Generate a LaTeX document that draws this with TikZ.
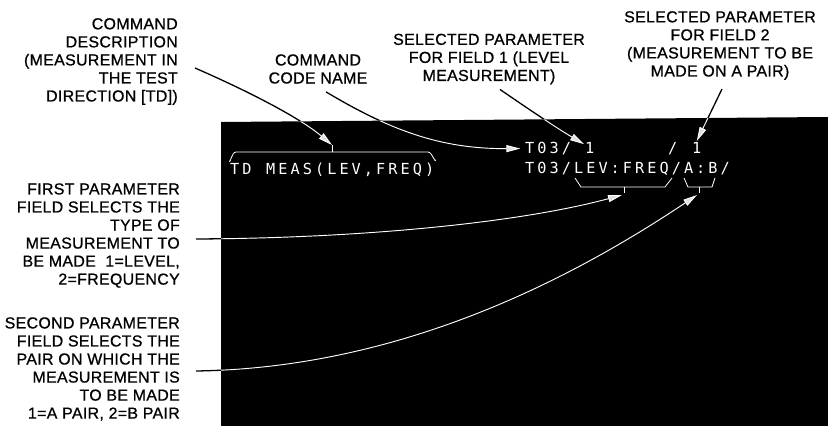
\documentclass[tikz,border=0pt]{standalone}
\usepackage{fontspec}
\setmainfont{Liberation Sans}[LetterSpace=2, FakeBold=0.8]
\newfontfamily\crtfont[LetterSpace=20]{DejaVu Sans Mono}
\usetikzlibrary{arrows.meta}

\tikzset{
  callout/.style={align=right, anchor=east, inner sep=0pt,
    font=\fontsize{13.6}{15.4}\selectfont},
  caption/.style={align=center, inner sep=0pt,
    font=\fontsize{13.6}{15.4}\selectfont},
  crt/.style={anchor=base west, inner sep=0pt, text=white,
    font=\crtfont\fontsize{13}{14}\selectfont},
  brace/.style={draw=white, line width=0.7pt},
  lead/.style={line width=1.1pt,
    -{Triangle[length=4.2mm, width=2.1mm, fill=black!12]}},
}

% leader lines, drawn once in black and once in white over the screen
\newcommand\leaderlines[1]{%
  \draw[lead, #1] ([shift={(17,6.5)}]desc.east)
    .. controls (250,92) and (300,118) .. (tdtick);
  \draw[lead, #1] ([shift={(8,8)}]codename.south)
    .. controls (390,130) and (440,149) .. ([xshift=-4]codeone.west);
  \draw[lead, #1] ([shift={(11,5)}]fieldone.south)
    .. controls (530,110) and (555,127) .. ([shift={(-1,2)}]levone.north west);
  \draw[lead, #1] ([shift={(2,9)}]fieldtwo.south) -- ([yshift=1]pairone.north);
  \draw[lead, #1] ([shift={(16,3.5)}]firstparam.east)
    .. controls (380,238) and (530,220) .. (levtick);
  \draw[lead, #1] ([shift={(16,2)}]secondparam.east)
    .. controls (400,368) and (570,280) .. (pairtick);
}

\begin{document}
\begin{tikzpicture}[x=0.03cm, y=-0.03cm]
  \useasboundingbox (0,0) rectangle (828,426);

  % the screen
  \fill[black] (221,122) -- (828,117) -- (828,426) -- (221,426) -- cycle;

  % callouts
  \node[callout] (desc) at (178,61.5) {COMMAND\\ DESCRIPTION\\ (MEASUREMENT IN\\ THE TEST\\ DIRECTION [TD])};
  \node[caption] (codename) at (318,69) {COMMAND\\ CODE NAME};
  \node[caption] (fieldone) at (489,59) {SELECTED PARAMETER\\ FOR FIELD 1 (LEVEL\\ MEASUREMENT)};
  \node[caption] (fieldtwo) at (720,45.5) {SELECTED PARAMETER\\ FOR FIELD 2\\ (MEASUREMENT TO BE\\ MADE ON A PAIR)};
  \node[callout] (firstparam) at (180,235.5) {FIRST PARAMETER\\ FIELD SELECTS THE\\ TYPE OF\\ MEASUREMENT TO\\ BE MADE\ \ 1=LEVEL,\\ 2=FREQUENCY};
  \node[callout] (secondparam) at (180,369) {SECOND PARAMETER\\ FIELD SELECTS THE\\ PAIR ON WHICH THE\\ MEASUREMENT IS\\ TO BE MADE\\ 1=A PAIR, 2=B PAIR};

  % screen text
  \node[crt] (tdcmd) at (230,174.5) {TD};
  \node[crt] (tdmeas) at (266,174.5) {MEAS(LEV,FREQ)};
  \node[crt] (codeone) at (525,153.5) {T03/};
  \node[crt] (levone) at (585,153.5) {1};
  \node[crt] (sepone) at (668,153.5) {/};
  \node[crt] (pairone) at (692,153.5) {1};
  \node[crt] (codetwo) at (525,173.5) {T03/LEV:FREQ/A:B/};

  % brackets over and under the fields
  \draw[brace] (229,161) to[out=-80, in=180] (236,152) -- (428,152)
    to[out=0, in=-100] (436,160);
  \draw[brace] (332,152) -- (332,145) coordinate (tdtick);
  \draw[brace] (575,178) -- (581,187) -- (665,187) -- (672,178);
  \draw[brace] (624,187) -- (624,193);
  \coordinate (levtick) at (622,195);
  \draw[brace] (684,178) -- (688,187) -- (712,187) -- (715,178);
  \draw[brace] (699,187) -- (699,193);
  \coordinate (pairtick) at (697,195);

  \leaderlines{draw=black}
  \begin{scope}
    \clip (221,122) -- (828,117) -- (828,426) -- (221,426) -- cycle;
    \leaderlines{draw=white, line width=0.8pt}
  \end{scope}
\end{tikzpicture}
\end{document}
